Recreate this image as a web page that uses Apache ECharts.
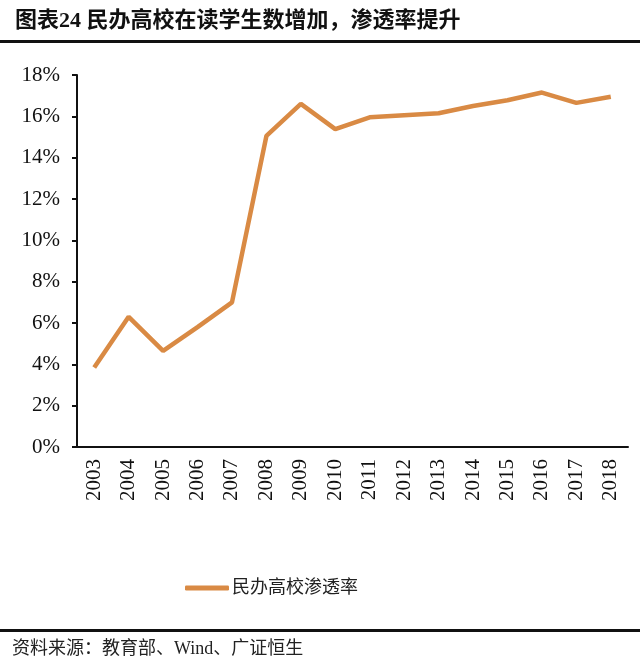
<!DOCTYPE html>
<html><head><meta charset="utf-8">
<script src="https://cdn.jsdelivr.net/npm/echarts@6/dist/echarts.min.js"></script>
<style>html,body{margin:0;padding:0;background:#fff}#c{width:640px;height:670px}</style>
</head><body><div id="c"></div>
<script>
const years = ['2003','2004','2005','2006','2007','2008','2009','2010','2011','2012','2013','2014','2015','2016','2017','2018'];
const penetration = [3.85, 6.3, 4.65, 5.8, 7.0, 15.05, 16.6, 15.38, 15.95, 16.05, 16.15, 16.5, 16.78, 17.15, 16.65, 16.95];
const seriesName = '民办高校渗透率';
const titleText = '图表24 民办高校在读学生数增加，渗透率提升';
const sourceText = '资料来源：教育部、Wind、广证恒生';

const serif = '"Liberation Serif","Noto Sans CJK SC",serif';
const chart = echarts.init(document.getElementById('c'));
chart.setOption({
  animation: false,
  title: { text: titleText, left: 10, top: 5,
    textStyle: { fontFamily: serif, fontSize: 22, fontWeight: 'bold', color: '#111' } },
  graphic: [
    { type: 'rect', shape: { x: 0, y: 40, width: 640, height: 3 }, style: { fill: '#111' } },
    { type: 'rect', shape: { x: 0, y: 629, width: 640, height: 3 }, style: { fill: '#111' } },
    { type: 'text', left: 12, top: 640, style: { text: sourceText, font: '18px ' + serif, fill: '#222' } }
  ],
  legend: { top: 574, left: 180, itemWidth: 44, itemHeight: 5, itemGap: 6, icon: 'roundRect',
    textStyle: { fontFamily: serif, fontSize: 18, color: '#222', padding: [0, 0, 0, -2] },
    data: [seriesName] },
  grid: { left: 77, right: 12, top: 75, bottom: 223 },
  xAxis: { type: 'category', data: years, boundaryGap: true,
    axisLine: { lineStyle: { color: '#111', width: 2 } },
    axisTick: { show: false },
    axisLabel: { rotate: 90, fontFamily: serif, fontSize: 21, color: '#111', margin: 12 } },
  yAxis: { type: 'value', min: 0, max: 18, interval: 2,
    axisLine: { show: true, lineStyle: { color: '#111', width: 2 } },
    axisTick: { show: true, length: 5, lineStyle: { color: '#111', width: 2 } },
    splitLine: { show: false },
    axisLabel: { formatter: '{value}%', fontFamily: serif, fontSize: 21, color: '#111', margin: 17 } },
  series: [{ name: seriesName, type: 'line', data: penetration, symbol: 'none',
    lineStyle: { color: '#D98A44', width: 4.5 }, itemStyle: { color: '#D98A44' } }]
});
</script></body></html>
